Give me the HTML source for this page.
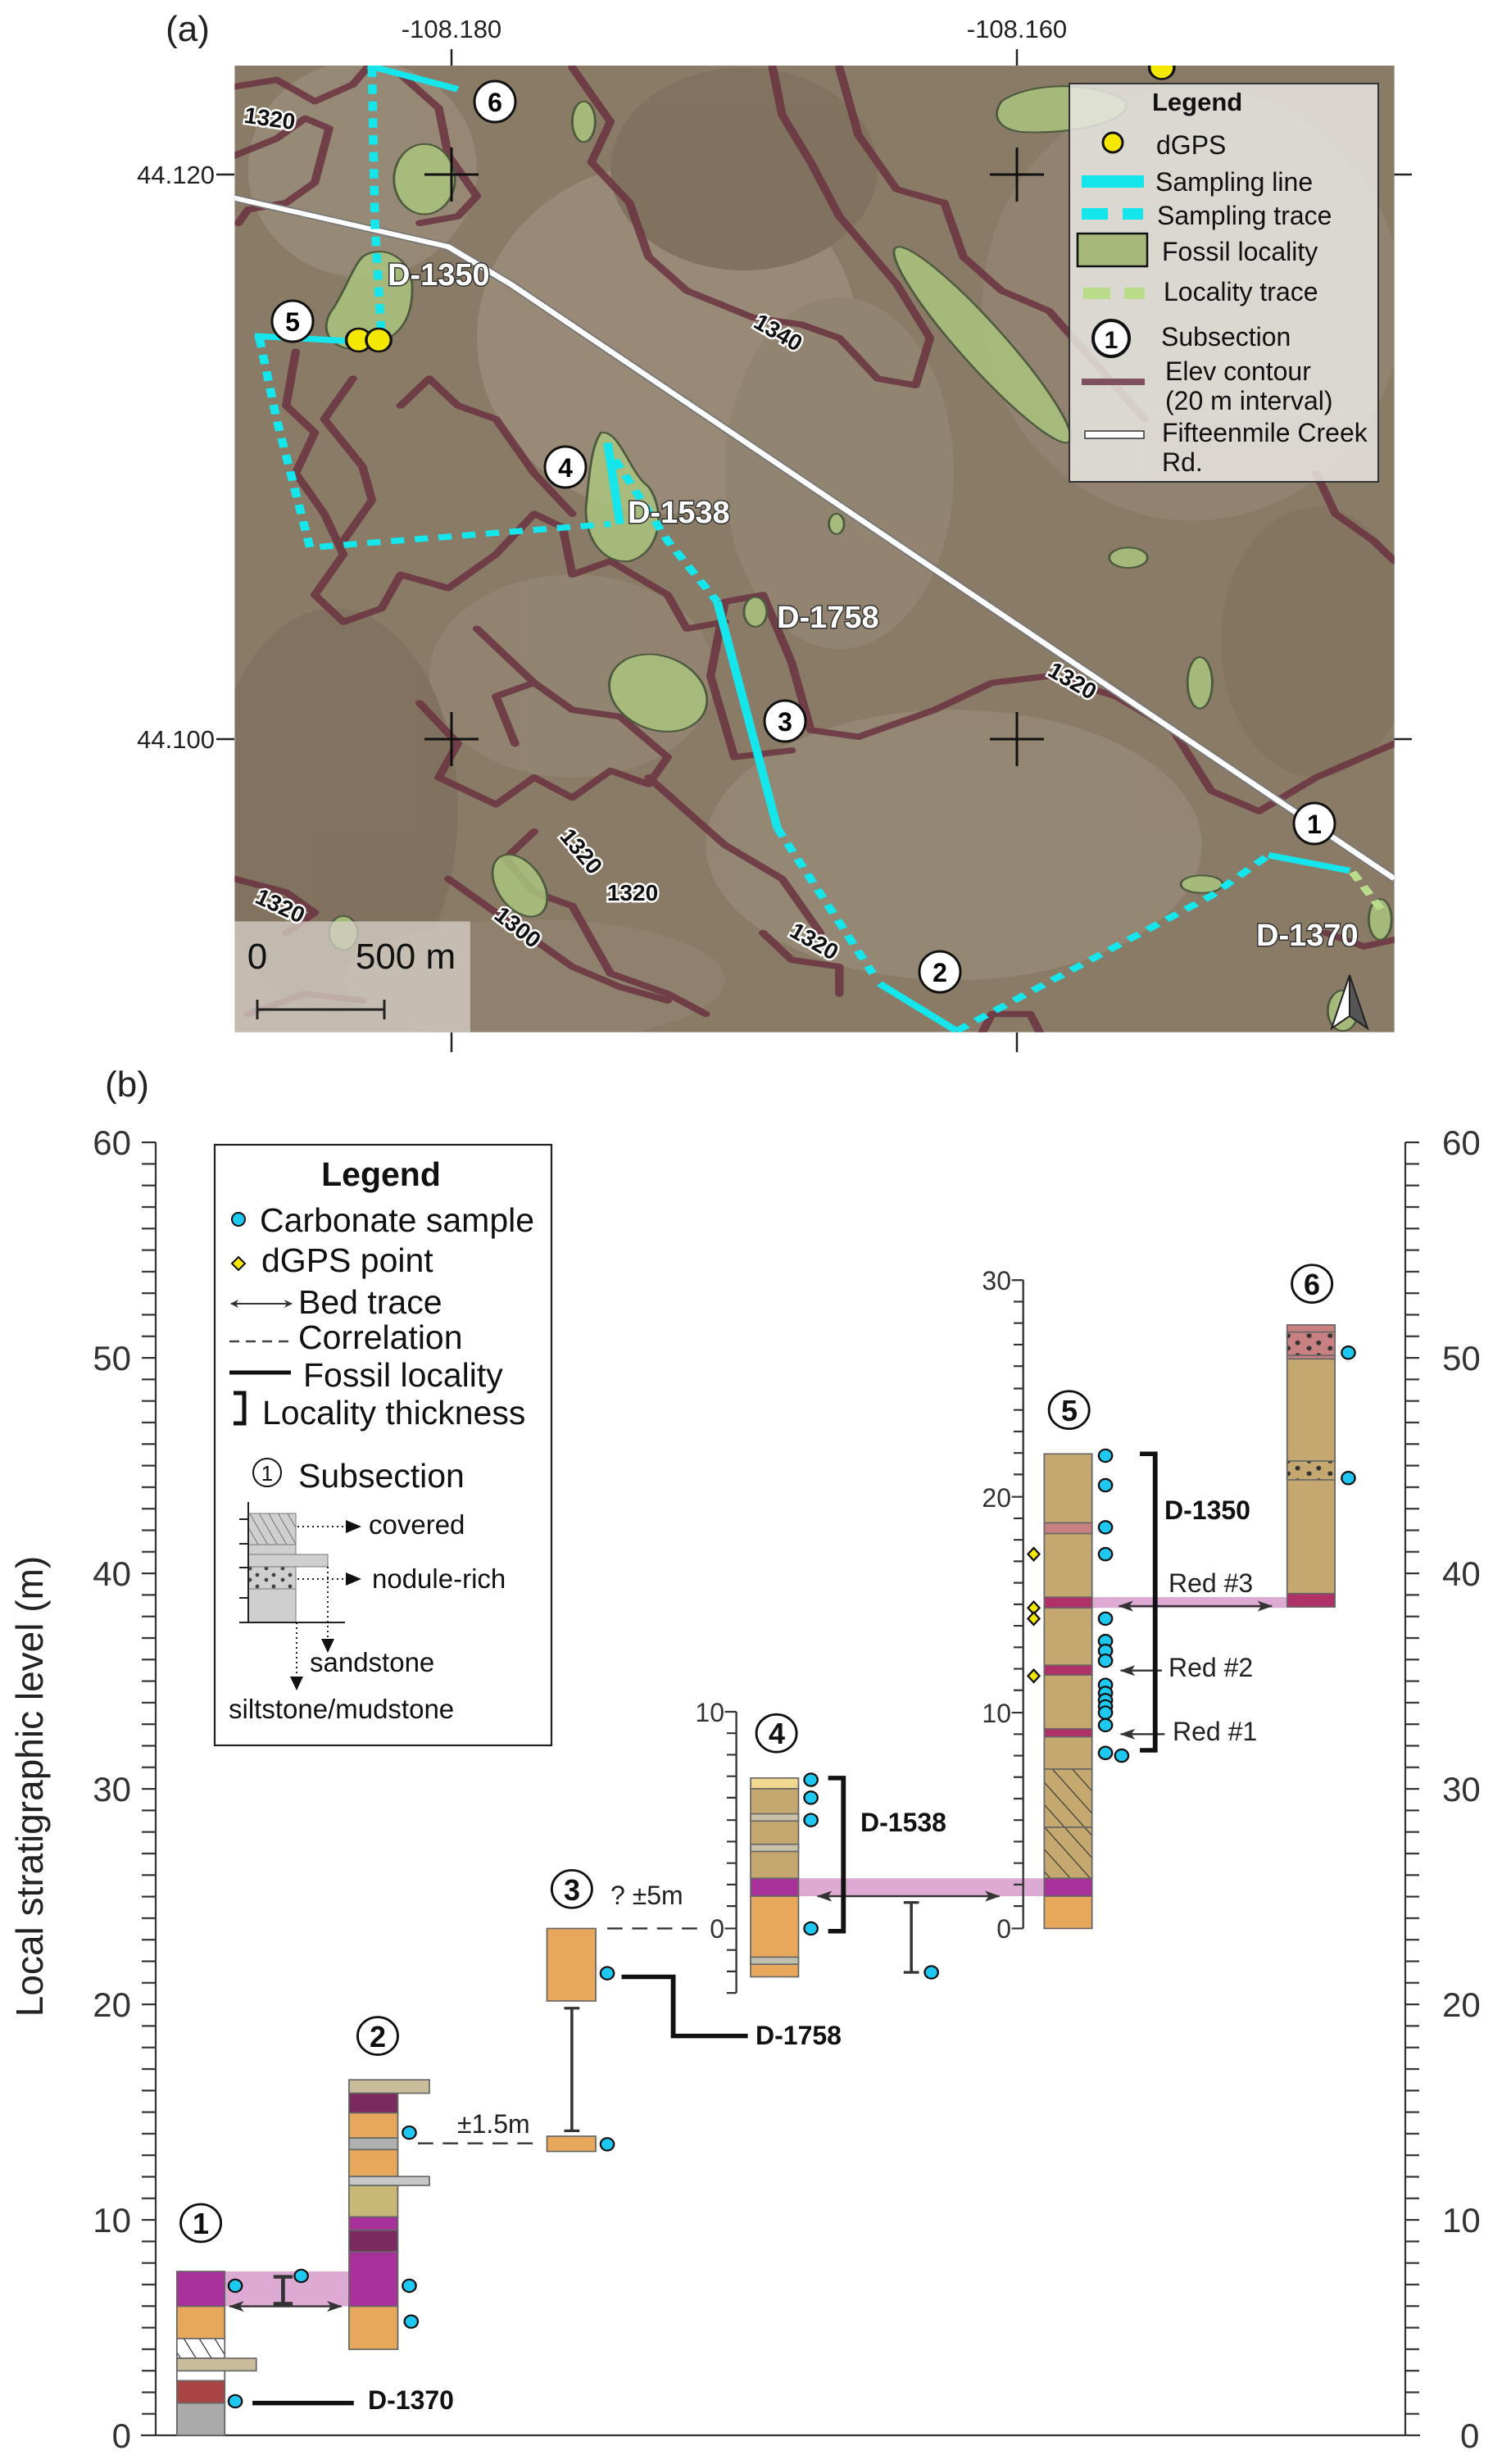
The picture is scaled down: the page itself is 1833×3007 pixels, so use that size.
<!DOCTYPE html>
<html><head><meta charset="utf-8"><style>
html,body{margin:0;padding:0;background:#fff;}
svg{display:block;}
text{font-family:"Liberation Sans",Arial,sans-serif;}
</style></head><body>
<svg width="1833" height="3007" viewBox="0 0 1833 3007" xmlns="http://www.w3.org/2000/svg">
<defs>
<clipPath id="mc"><rect x="246" y="97" width="1216" height="1430"/></clipPath>
<pattern id="hatchW" patternUnits="userSpaceOnUse" width="14" height="14" patternTransform="rotate(-30)">
<rect width="14" height="14" fill="#fff"/><line x1="0" y1="0" x2="0" y2="14" stroke="#222" stroke-width="2"/></pattern>
<pattern id="hatchT" patternUnits="userSpaceOnUse" width="16" height="16" patternTransform="rotate(-40)">
<rect width="16" height="16" fill="#c4a870"/><line x1="0" y1="0" x2="0" y2="16" stroke="#333" stroke-width="2"/></pattern>
<pattern id="hatchG" patternUnits="userSpaceOnUse" width="10" height="10" patternTransform="rotate(-30)">
<rect width="10" height="10" fill="#cfcfcf"/><line x1="0" y1="0" x2="0" y2="10" stroke="#555" stroke-width="1.5"/></pattern>
<pattern id="dotR" patternUnits="userSpaceOnUse" width="22" height="14">
<rect width="22" height="14" fill="#c88080"/><circle cx="5" cy="10" r="2.6" fill="#333"/><circle cx="15" cy="4" r="2.6" fill="#333"/></pattern>
<pattern id="dotT" patternUnits="userSpaceOnUse" width="22" height="14">
<rect width="22" height="14" fill="#c4a870"/><circle cx="5" cy="10" r="2.6" fill="#333"/><circle cx="15" cy="4" r="2.6" fill="#333"/></pattern>
<pattern id="dotG" patternUnits="userSpaceOnUse" width="20" height="14">
<rect width="20" height="14" fill="#cfcfcf"/><circle cx="5" cy="10" r="2.4" fill="#444"/><circle cx="14" cy="4" r="2.4" fill="#444"/></pattern>
<pattern id="tickp" patternUnits="userSpaceOnUse" x="0" y="1393" width="20" height="26.3">
<rect x="0" y="0" width="20" height="2.2" fill="#333"/></pattern>
<marker id="ah" markerWidth="10" markerHeight="10" refX="9" refY="5" orient="auto-start-reverse" markerUnits="userSpaceOnUse">
<path d="M0,0 L10,5 L0,10 L3,5 z" fill="#333"/></marker>
<marker id="ahs" markerWidth="16" markerHeight="12" refX="15" refY="6" orient="auto-start-reverse" markerUnits="userSpaceOnUse">
<path d="M0,0 L16,6 L0,12 L4,6 z" fill="#333"/></marker>
</defs>

<!-- ================= PART A: MAP ================= -->
<text x="229" y="50" font-size="44" text-anchor="middle" fill="#222">(a)</text>
<text x="551" y="46" font-size="31" text-anchor="middle" fill="#222">-108.180</text>
<text x="1241" y="46" font-size="31" text-anchor="middle" fill="#222">-108.160</text>
<text x="262" y="224" font-size="31" text-anchor="end" fill="#222">44.120</text>
<text x="262" y="913" font-size="31" text-anchor="end" fill="#222">44.100</text>
<g stroke="#222" stroke-width="2.5">
<line x1="551" y1="60" x2="551" y2="80"/><line x1="1241" y1="60" x2="1241" y2="80"/>
<line x1="551" y1="1260" x2="551" y2="1284"/><line x1="1241" y1="1260" x2="1241" y2="1284"/>
<line x1="264" y1="213" x2="286" y2="213"/><line x1="264" y1="902" x2="286" y2="902"/>
<line x1="1701" y1="213" x2="1723" y2="213"/><line x1="1701" y1="902" x2="1723" y2="902"/>
</g>

<g transform="scale(1.164,0.825)">
<g clip-path="url(#mc)">
<rect x="246" y="97" width="1216" height="1430" fill="#8a7b67"/>
<g opacity="0.3">
<ellipse cx="700" cy="500" rx="200" ry="260" fill="#b8ad9c"/>
<ellipse cx="380" cy="250" rx="120" ry="160" fill="#b3a896"/>
<ellipse cx="1000" cy="1250" rx="260" ry="200" fill="#ada291"/>
<ellipse cx="1250" cy="450" rx="220" ry="320" fill="#a29684"/>
<ellipse cx="600" cy="1000" rx="150" ry="150" fill="#a39884"/>
<ellipse cx="880" cy="700" rx="120" ry="260" fill="#a49985"/>
<ellipse cx="350" cy="1200" rx="130" ry="300" fill="#6f604e"/>
<ellipse cx="780" cy="250" rx="140" ry="150" fill="#6f604e"/>
<ellipse cx="1380" cy="950" rx="100" ry="200" fill="#776753"/>
<ellipse cx="560" cy="1450" rx="200" ry="90" fill="#9c8f7c"/>
</g>
<g fill="none" stroke="#6a3340" stroke-width="9" stroke-linejoin="round" stroke-linecap="round" opacity="0.85">
<path d="M246,128 L290,118 L330,150 L370,125 L385,100"/>
<path d="M246,230 L290,205 L320,175 L345,190 L330,270 L300,300 L260,310 L250,330"/>
<path d="M420,110 L460,160 L470,230 L500,290 L480,320 L440,330"/>
<path d="M600,100 L640,180 L620,240 L660,300 L680,380 L720,430 L790,470 L840,480 L880,500 L920,560 L960,570 L975,500 L940,420 L880,320 L850,240 L820,170 L810,100"/>
<path d="M880,100 L900,200 L940,280 L990,300 L1010,380 L1050,430 L1100,460 L1150,540 L1200,620"/>
<path d="M310,520 L300,600 L330,640 L310,700 L340,760 L360,820 L330,880 L360,920 L400,900 L420,850 L470,870 L520,820 L560,760 L590,780 L600,850 L640,830 L700,880 L720,930 L760,920"/>
<path d="M370,560 L340,620 L380,690 L390,740 L360,800"/>
<path d="M1462,1100 L1380,1150 L1320,1200 L1270,1170 L1230,1080 L1170,1030 L1100,1000 L1040,1010 L980,1050 L900,1090 L850,1080 L830,980 L800,880 L760,890 L745,1000 L770,1120 L830,1110"/>
<path d="M440,1040 L480,1100 L460,1150 L520,1190 L560,1150 L600,1180 L640,1140 L680,1160 L700,1120 L650,1060 L600,1050 L560,1010 L520,1030 L540,1100"/>
<path d="M500,930 L530,970 L560,1010"/>
<path d="M560,1230 L530,1270 L560,1320 L600,1340 L620,1390 L640,1440 L700,1470 L740,1500"/>
<path d="M470,1300 L500,1330 L560,1390 L600,1430 L650,1460 L700,1480"/>
<path d="M246,1300 L300,1320 L330,1350 L300,1380"/>
<path d="M800,1380 L830,1420 L880,1430 L880,1470"/>
<path d="M1030,1527 L1040,1500 L1080,1500 L1090,1527"/>
<path d="M1380,700 L1400,760 L1440,800 L1462,830"/>
<path d="M1390,1380 L1430,1400 L1462,1390"/>
<path d="M260,1500 L320,1470 L380,1480"/>
<path d="M680,1150 L720,1200 L760,1250 L820,1300 L860,1380"/>
<path d="M420,600 L450,560 L480,600 L520,620 L560,700 L600,760"/>
</g>
<g fill="#a9c47e" fill-opacity="0.85" stroke="#4e5a40" stroke-width="2.5">
<ellipse cx="445" cy="265" rx="32" ry="52"/>
<path d="M380,380 C400,360 430,380 432,420 C434,470 420,500 385,515 C350,525 330,490 350,455 C365,420 370,395 380,380 z"/>
<path d="M630,640 C650,635 660,700 680,720 C700,760 690,820 660,830 C630,835 610,790 615,740 C618,700 620,660 630,640 z"/>
<ellipse cx="690" cy="1025" rx="48" ry="60" transform="rotate(-30 690 1025)"/>
<ellipse cx="1030" cy="510" rx="170" ry="26" transform="rotate(58 1030 510)"/>
<path d="M1050,150 C1080,120 1150,120 1180,150 C1190,180 1120,200 1070,195 C1045,190 1040,170 1050,150 z"/>
<ellipse cx="612" cy="180" rx="12" ry="30"/>
<ellipse cx="1258" cy="1010" rx="13" ry="38"/>
<ellipse cx="1183" cy="825" rx="20" ry="15"/>
<ellipse cx="877" cy="775" rx="8" ry="15"/>
<ellipse cx="792" cy="905" rx="12" ry="22"/>
<ellipse cx="1260" cy="1308" rx="22" ry="13"/>
<ellipse cx="1447" cy="1360" rx="12" ry="30"/>
<ellipse cx="545" cy="1310" rx="25" ry="48" transform="rotate(-20 545 1310)"/>
<ellipse cx="1408" cy="1495" rx="16" ry="30"/>
<ellipse cx="360" cy="1380" rx="15" ry="25"/>
</g>
<path d="M243,292 L470,365 L535,420 L1462,1300" fill="none" stroke="#777" stroke-width="11"/>
<path d="M243,292 L470,365 L535,420 L1462,1300" fill="none" stroke="#fff" stroke-width="7"/>
<path d="M1418,1290 L1448,1345" stroke="#b8dc8a" stroke-width="9" stroke-dasharray="14 10" fill="none"/>
<g stroke="#14e6ec" fill="none" stroke-linecap="butt">
<g stroke-width="9">
<path d="M386,97 L480,132"/><path d="M267,497 L400,507"/><path d="M637,655 L650,775"/>
<path d="M752,890 L815,1225"/><path d="M922,1455 L1003,1525"/><path d="M1330,1265 L1415,1288"/>
</g>
<g stroke-width="9" stroke-dasharray="14 11">
<path d="M390,100 L393,330 L400,500"/>
<path d="M272,500 L290,620 L325,810 L640,775"/>
<path d="M645,680 L700,800 L752,890"/>
<path d="M815,1225 L915,1440"/>
<path d="M1003,1525 L1270,1325 L1330,1265"/>
<path d="M1205,92 L1222,112"/>
</g>
</g>
<g fill="#f5e800" stroke="#111" stroke-width="3">
<ellipse cx="376" cy="503" rx="13" ry="17"/><ellipse cx="397" cy="503" rx="13" ry="17"/>
<ellipse cx="1218" cy="100" rx="13" ry="17"/>
</g>
<rect x="246" y="1363" width="247" height="164" fill="#d8d2ca" fill-opacity="0.75"/>
</g>
</g>

<g stroke="#111" stroke-width="3">
<line x1="518" y1="213" x2="584" y2="213"/><line x1="551" y1="180" x2="551" y2="246"/>
<line x1="1208" y1="213" x2="1274" y2="213"/><line x1="1241" y1="180" x2="1241" y2="246"/>
<line x1="518" y1="902" x2="584" y2="902"/><line x1="551" y1="869" x2="551" y2="935"/>
<line x1="1208" y1="902" x2="1274" y2="902"/><line x1="1241" y1="869" x2="1241" y2="935"/>
</g>
<g stroke="#222" stroke-width="3">
<line x1="314" y1="1232" x2="469" y2="1232"/><line x1="314" y1="1220" x2="314" y2="1244"/><line x1="469" y1="1220" x2="469" y2="1244"/>
</g>
<text x="314" y="1182" font-size="44" text-anchor="middle" fill="#111">0</text>
<text x="495" y="1182" font-size="44" text-anchor="middle" fill="#111">500 m</text>
<path d="M1647,1190 L1625,1255 L1647,1240 Z" fill="#fff" stroke="#222" stroke-width="2"/>
<path d="M1647,1190 L1669,1255 L1647,1240 Z" fill="#555" stroke="#222" stroke-width="2"/>

<g font-size="28" font-weight="bold" fill="#111" stroke="#fff" stroke-width="5" paint-order="stroke" text-anchor="middle">
<text transform="translate(328,154) rotate(8)">1320</text>
<text transform="translate(945,414) rotate(30)">1340</text>
<text transform="translate(1304,839) rotate(30)">1320</text>
<text transform="translate(702,1045) rotate(50)">1320</text>
<text transform="translate(772,1099)">1320</text>
<text transform="translate(626,1139) rotate(38)">1300</text>
<text transform="translate(338,1114) rotate(25)">1320</text>
<text transform="translate(989,1157) rotate(30)">1320</text>
</g>
<g font-size="38" font-weight="bold" fill="#fff" stroke="#333" stroke-width="3" paint-order="stroke">
<text x="473" y="348">D-1350</text>
<text x="766" y="638">D-1538</text>
<text x="948" y="766">D-1758</text>
<text x="1533" y="1154">D-1370</text>
</g>
<g font-size="32" font-weight="bold" text-anchor="middle">
<circle cx="604" cy="124" r="25" fill="#fff" stroke="#111" stroke-width="3"/><text x="604" y="136">6</text>
<circle cx="357" cy="392" r="25" fill="#fff" stroke="#111" stroke-width="3"/><text x="357" y="404">5</text>
<circle cx="690" cy="570" r="25" fill="#fff" stroke="#111" stroke-width="3"/><text x="690" y="582">4</text>
<circle cx="958" cy="880" r="25" fill="#fff" stroke="#111" stroke-width="3"/><text x="958" y="892">3</text>
<circle cx="1147" cy="1186" r="25" fill="#fff" stroke="#111" stroke-width="3"/><text x="1147" y="1198">2</text>
<circle cx="1604" cy="1005" r="25" fill="#fff" stroke="#111" stroke-width="3"/><text x="1604" y="1017">1</text>
</g>

<rect x="1305" y="102" width="377" height="486" fill="#e8e6e2" fill-opacity="0.85" stroke="#333" stroke-width="2"/>
<g font-size="32" fill="#111">
<text x="1406" y="135" font-weight="bold" font-size="31">Legend</text>
<circle cx="1358" cy="174" r="12" fill="#f5e800" stroke="#111" stroke-width="3"/>
<text x="1411" y="188">dGPS</text>
<rect x="1320" y="214" width="76" height="15" fill="#14e6ec"/>
<text x="1410" y="233">Sampling line</text>
<rect x="1320" y="254" width="32" height="14" fill="#14e6ec"/><rect x="1370" y="254" width="25" height="14" fill="#14e6ec"/>
<text x="1412" y="274">Sampling trace</text>
<rect x="1315" y="285" width="85" height="40" fill="#a8b87a" stroke="#111" stroke-width="2.5"/>
<text x="1418" y="318">Fossil locality</text>
<rect x="1322" y="351" width="33" height="14" fill="#b8dc8a"/><rect x="1372" y="351" width="25" height="14" fill="#b8dc8a"/>
<text x="1420" y="367">Locality trace</text>
<circle cx="1356" cy="413" r="22" fill="#fff" stroke="#111" stroke-width="4"/>
<text x="1356" y="425" text-anchor="middle" font-weight="bold" font-size="30">1</text>
<text x="1417" y="422">Subsection</text>
<rect x="1320" y="462" width="77" height="8" fill="#7e5060"/>
<text x="1422" y="464">Elev contour</text>
<text x="1422" y="500">(20 m interval)</text>
<rect x="1324" y="526" width="72" height="9" fill="#fff" stroke="#333" stroke-width="1.5"/>
<text x="1418" y="539">Fifteenmile Creek</text>
<text x="1418" y="575">Rd.</text>
</g>

<!-- ================= PART B ================= -->
<text x="155" y="1338" font-size="44" text-anchor="middle" fill="#222">(b)</text>
<text transform="translate(52,2180) rotate(-90)" font-size="46" text-anchor="middle" fill="#222">Local stratigraphic level (m)</text>

<g stroke="#333" stroke-width="2.2" fill="none">
<line x1="190" y1="1394" x2="190" y2="2972"/>
<line x1="1715" y1="1394" x2="1715" y2="2972"/>
<line x1="172" y1="2972" x2="1733" y2="2972"/>
</g>
<rect x="173" y="1393" width="17" height="1579" fill="url(#tickp)"/>
<rect x="1715" y="1393" width="17" height="1579" fill="url(#tickp)"/>
<g font-size="42" fill="#333">
<g text-anchor="end">
<text x="160" y="1409">60</text><text x="160" y="1672">50</text><text x="160" y="1935">40</text>
<text x="160" y="2198">30</text><text x="160" y="2461">20</text><text x="160" y="2724">10</text><text x="160" y="2987">0</text>
</g>
<text x="1760" y="1409">60</text><text x="1760" y="1672">50</text><text x="1760" y="1935">40</text>
<text x="1760" y="2198">30</text><text x="1760" y="2461">20</text><text x="1760" y="2724">10</text><text x="1782" y="2987">0</text>
</g>

<rect x="262" y="1397" width="411" height="733" fill="#fff" stroke="#222" stroke-width="2.2"/>
<g font-size="41" fill="#111">
<text x="465" y="1447" text-anchor="middle" font-weight="bold">Legend</text>
<circle cx="291" cy="1488" r="8" fill="#1ec8f0" stroke="#111" stroke-width="2"/>
<text x="317" y="1503">Carbonate sample</text>
<path d="M291,1534 L299,1542 L291,1550 L283,1542 Z" fill="#f5e800" stroke="#111" stroke-width="2"/>
<text x="319" y="1552">dGPS point</text>
<line x1="282" y1="1591" x2="356" y2="1591" stroke="#333" stroke-width="2" marker-start="url(#ah)" marker-end="url(#ah)"/>
<text x="364" y="1603">Bed trace</text>
<line x1="280" y1="1637" x2="356" y2="1637" stroke="#444" stroke-width="2.5" stroke-dasharray="12 8"/>
<text x="364" y="1646">Correlation</text>
<line x1="280" y1="1675" x2="355" y2="1675" stroke="#111" stroke-width="5"/>
<text x="370" y="1692">Fossil locality</text>
<path d="M285,1700 H298 V1737 H285" fill="none" stroke="#111" stroke-width="5"/>
<text x="320" y="1738">Locality thickness</text>
<circle cx="326" cy="1797" r="17" fill="#fff" stroke="#111" stroke-width="2"/>
<text x="326" y="1807" font-size="26" text-anchor="middle">1</text>
<text x="364" y="1815">Subsection</text>
</g>
<g>
<rect x="303" y="1847" width="58" height="38" fill="url(#hatchG)" stroke="#777" stroke-width="1"/>
<rect x="303" y="1885" width="58" height="12" fill="#cfcfcf" stroke="#777" stroke-width="1"/>
<rect x="303" y="1897" width="97" height="15" fill="#cfcfcf" stroke="#777" stroke-width="1"/>
<rect x="303" y="1912" width="58" height="27" fill="url(#dotG)" stroke="#777" stroke-width="1"/>
<rect x="303" y="1939" width="58" height="41" fill="#cfcfcf" stroke="#777" stroke-width="1"/>
<line x1="303" y1="1833" x2="303" y2="1980" stroke="#222" stroke-width="2"/>
<line x1="292" y1="1980" x2="421" y2="1980" stroke="#222" stroke-width="2"/>
<g stroke="#222" stroke-width="2"><line x1="292" y1="1854" x2="303" y2="1854"/><line x1="292" y1="1884" x2="303" y2="1884"/><line x1="292" y1="1913" x2="303" y2="1913"/><line x1="292" y1="1950" x2="303" y2="1950"/></g>
<g stroke="#222" stroke-width="2" stroke-dasharray="2 4" fill="none">
<line x1="363" y1="1863" x2="422" y2="1863"/><line x1="363" y1="1927" x2="422" y2="1927"/>
<line x1="400" y1="1912" x2="400" y2="2000"/><line x1="362" y1="1980" x2="362" y2="2046"/>
</g>
<g fill="#111">
<path d="M422,1855 L441,1863 L422,1871 Z"/><path d="M422,1919 L441,1927 L422,1935 Z"/>
<path d="M392,2000 L408,2000 L400,2017 Z"/><path d="M354,2046 L370,2046 L362,2063 Z"/>
</g>
<g font-size="33" fill="#111">
<text x="450" y="1872">covered</text><text x="454" y="1938">nodule-rich</text>
<text x="378" y="2040">sandstone</text><text x="279" y="2097">siltstone/mudstone</text>
</g>
</g>

<g transform="translate(0,1297.8) scale(1.167,1.0928)">
<rect x="235" y="1349" width="130" height="39" fill="#dcaad2"/>
<rect x="835" y="910" width="257" height="20" fill="#dcaad2"/>
<rect x="1142" y="596" width="204" height="12" fill="#dcaad2"/>
<g stroke="#666" stroke-width="1.5">
<rect x="185" y="1349" width="50" height="39" fill="#a8309a"/>
<rect x="185" y="1388" width="50" height="36" fill="#e8a85c"/>
<rect x="185" y="1424" width="50" height="22" fill="url(#hatchW)"/>
<rect x="185" y="1446" width="83" height="14" fill="#c8bc9a"/>
<rect x="185" y="1460" width="50" height="11" fill="#fff"/>
<rect x="185" y="1471" width="50" height="25" fill="#a84444"/>
<rect x="185" y="1496" width="50" height="36" fill="#aaaaaa"/>
<rect x="365" y="1135" width="84" height="15" fill="#c8bc9a"/>
<rect x="365" y="1150" width="51" height="22" fill="#7a2a5e"/>
<rect x="365" y="1172" width="51" height="28" fill="#e8a85c"/>
<rect x="365" y="1200" width="51" height="13" fill="#b0b0b0"/>
<rect x="365" y="1213" width="51" height="30" fill="#e8a85c"/>
<rect x="365" y="1243" width="84" height="10" fill="#c8c8c8"/>
<rect x="365" y="1253" width="51" height="35" fill="#c8b878"/>
<rect x="365" y="1288" width="51" height="15" fill="#a8309a"/>
<rect x="365" y="1303" width="51" height="24" fill="#7a2a5e"/>
<rect x="365" y="1327" width="51" height="61" fill="#a8309a"/>
<rect x="365" y="1388" width="51" height="48" fill="#e8a85c"/>
<rect x="572" y="966" width="51" height="81" fill="#e8a85c"/>
<rect x="572" y="1198" width="51" height="17" fill="#e8a85c"/>
<rect x="785" y="798" width="50" height="12" fill="#f0d890"/>
<rect x="785" y="810" width="50" height="100" fill="#c4a870"/>
<rect x="785" y="838" width="50" height="8" fill="#c8c0a8"/>
<rect x="785" y="872" width="50" height="8" fill="#c8c0a8"/>
<rect x="785" y="910" width="50" height="20" fill="#a8309a"/>
<rect x="785" y="930" width="50" height="90" fill="#e8a85c"/>
<rect x="785" y="998" width="50" height="8" fill="#c0c0b0"/>
<rect x="1092" y="436" width="50" height="352" fill="#c4a870"/>
<rect x="1092" y="513" width="50" height="12" fill="#c88080"/>
<rect x="1092" y="596" width="50" height="12" fill="#b03068"/>
<rect x="1092" y="672" width="50" height="11" fill="#b03068"/>
<rect x="1092" y="743" width="50" height="9" fill="#b03068"/>
<rect x="1092" y="788" width="50" height="65" fill="url(#hatchT)"/>
<rect x="1092" y="853" width="50" height="57" fill="url(#hatchT)"/>
<rect x="1092" y="910" width="50" height="20" fill="#a8309a"/>
<rect x="1092" y="930" width="50" height="36" fill="#e8a85c"/>
<rect x="1346" y="292" width="50" height="38" fill="#c88080"/>
<rect x="1346" y="300" width="50" height="26" fill="url(#dotR)"/>
<rect x="1346" y="330" width="50" height="262" fill="#c4a870"/>
<rect x="1346" y="444" width="50" height="21" fill="url(#dotT)"/>
<rect x="1346" y="592" width="50" height="15" fill="#b03068"/>
</g>
<g stroke="#333" stroke-width="2" fill="none">
<line x1="770" y1="724" x2="770" y2="1038"/>
<path d="M758,724h12M760,748h10M760,772h10M760,796h10M760,820h10M760,845h10M760,869h10M760,893h10M760,917h10M760,941h10M758,966h12M760,990h10M760,1014h10M760,1038h10"/>
<line x1="1070" y1="242" x2="1070" y2="966"/>
<path d="M1058,242h12M1060,266h10M1060,290h10M1060,314h10M1060,338h10M1060,363h10M1060,387h10M1060,411h10M1060,435h10M1060,459h10M1058,484h12M1060,508h10M1060,532h10M1060,556h10M1060,580h10M1060,604h10M1060,628h10M1060,652h10M1060,676h10M1060,700h10M1058,725h12M1060,749h10M1060,773h10M1060,797h10M1060,821h10M1060,845h10M1060,869h10M1060,893h10M1060,917h10M1060,941h10M1058,966h12"/>
</g>
<g stroke="#333" stroke-width="2.2" fill="none">
<line x1="240" y1="1388" x2="357" y2="1388" marker-start="url(#ahs)" marker-end="url(#ahs)"/>
<line x1="855" y1="930" x2="1045" y2="930" marker-start="url(#ahs)" marker-end="url(#ahs)"/>
<line x1="1170" y1="606" x2="1330" y2="606" marker-start="url(#ahs)" marker-end="url(#ahs)"/>
<line x1="1215" y1="678" x2="1172" y2="678" marker-end="url(#ahs)"/>
<line x1="1218" y1="749" x2="1172" y2="749" marker-end="url(#ahs)"/>
<path d="M296,1355 V1385 M286,1355 H306 M286,1385 H306" stroke-width="4"/>
<path d="M953,937 V1015 M945,937 H961 M945,1015 H961" stroke-width="3"/>
<path d="M598,1055 V1192 M590,1055 H606 M590,1192 H606" stroke-width="3"/>
<line x1="437" y1="1206" x2="567" y2="1206" stroke-dasharray="16 10"/>
<line x1="635" y1="966" x2="732" y2="966" stroke-dasharray="16 10"/>
</g>
<g stroke="#111" stroke-width="5" fill="none">
<line x1="264" y1="1496" x2="370" y2="1496"/>
<path d="M650,1020 H704 V1086 H782"/>
<path d="M866,798 H882 V969 H866"/>
<path d="M1192,436 H1208 V767 H1192"/>
</g>
<g fill="#1ec8f0" stroke="#111" stroke-width="2">
<ellipse cx="246" cy="1365" rx="7" ry="7"/><ellipse cx="315" cy="1354" rx="7" ry="7"/><ellipse cx="246" cy="1494" rx="7" ry="7"/>
<ellipse cx="428" cy="1194" rx="7" ry="7"/><ellipse cx="428" cy="1365" rx="7" ry="7"/><ellipse cx="430" cy="1405" rx="7" ry="7"/>
<ellipse cx="635" cy="1016" rx="7" ry="7"/><ellipse cx="635" cy="1207" rx="7" ry="7"/>
<ellipse cx="848" cy="800" rx="7" ry="7"/><ellipse cx="848" cy="820" rx="7" ry="7"/><ellipse cx="848" cy="845" rx="7" ry="7"/><ellipse cx="848" cy="966" rx="7" ry="7"/>
<ellipse cx="974" cy="1015" rx="7" ry="7"/>
<ellipse cx="1156" cy="438" rx="7" ry="7"/><ellipse cx="1156" cy="471" rx="7" ry="7"/><ellipse cx="1156" cy="518" rx="7" ry="7"/><ellipse cx="1156" cy="548" rx="7" ry="7"/>
<ellipse cx="1156" cy="620" rx="7" ry="7"/><ellipse cx="1156" cy="645" rx="7" ry="7"/><ellipse cx="1156" cy="656" rx="7" ry="7"/><ellipse cx="1156" cy="667" rx="7" ry="7"/>
<ellipse cx="1156" cy="694" rx="7" ry="7"/><ellipse cx="1156" cy="703" rx="7" ry="7"/><ellipse cx="1156" cy="711" rx="7" ry="7"/><ellipse cx="1156" cy="718" rx="7" ry="7"/><ellipse cx="1156" cy="725" rx="7" ry="7"/><ellipse cx="1156" cy="739" rx="7" ry="7"/>
<ellipse cx="1156" cy="770" rx="7" ry="7"/><ellipse cx="1173" cy="773" rx="7" ry="7"/>
<ellipse cx="1410" cy="323" rx="7" ry="7"/><ellipse cx="1410" cy="463" rx="7" ry="7"/>
</g>
<g fill="#f5e800" stroke="#111" stroke-width="2">
<path d="M1081,541 l6,7 l-6,7 l-6,-7 z"/><path d="M1081,601 l6,7 l-6,7 l-6,-7 z"/>
<path d="M1081,613 l6,7 l-6,7 l-6,-7 z"/><path d="M1081,677 l6,7 l-6,7 l-6,-7 z"/>
</g>
<g fill="#fff" stroke="#111" stroke-width="2.5">
<circle cx="210" cy="1295" r="21"/><circle cx="395" cy="1086" r="21"/><circle cx="598" cy="922" r="21"/>
<circle cx="812" cy="748" r="21"/><circle cx="1118" cy="387" r="21"/><circle cx="1372" cy="246" r="21"/>
</g>
</g>

<g font-size="36" font-weight="bold" text-anchor="middle" fill="#111">
<text x="245" y="2726">1</text><text x="461" y="2498">2</text><text x="698" y="2319">3</text>
<text x="948" y="2128">4</text><text x="1305" y="1734">5</text><text x="1601" y="1580">6</text>
</g>
<g font-size="32" font-weight="bold" fill="#111">
<text x="449" y="2940">D-1370</text>
<text x="922" y="2495">D-1758</text>
<text x="1050" y="2235">D-1538</text>
<text x="1421" y="1854">D-1350</text>
</g>
<g font-size="32" fill="#222">
<text x="1426" y="1943">Red #3</text>
<text x="1426" y="2046">Red #2</text>
<text x="1431" y="2124">Red #1</text>
<text x="558" y="2603">±1.5m</text>
<text x="745" y="2324">? ±5m</text>
</g>
<g font-size="32" fill="#333" text-anchor="end">
<text x="884" y="2101">10</text><text x="884" y="2365">0</text>
<text x="1234" y="1574">30</text><text x="1234" y="1839">20</text><text x="1234" y="2102">10</text><text x="1234" y="2365">0</text>
</g>
</svg>
</body></html>
